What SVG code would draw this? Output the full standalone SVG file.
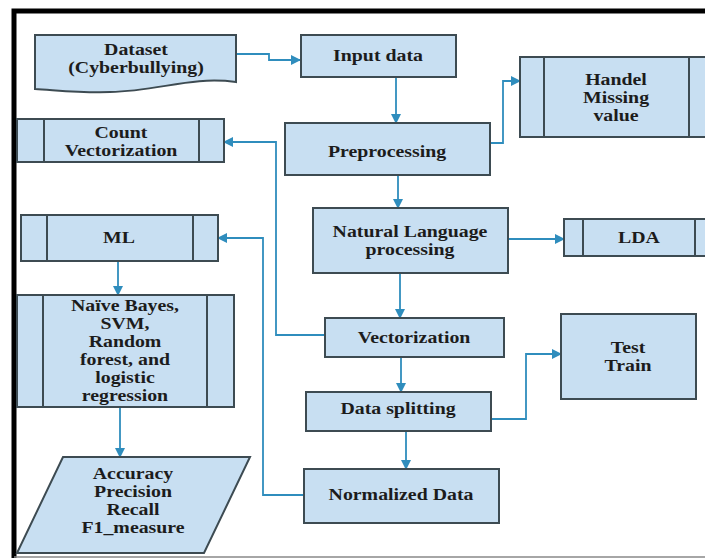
<svg xmlns="http://www.w3.org/2000/svg" width="705" height="558" viewBox="0 0 705 558">
<defs>
<style>
.box{fill:#c8dff2;stroke:#3d4b52;stroke-width:2}
.ln{fill:none;stroke:#3d4b52;stroke-width:2}
.t{font-family:"Liberation Serif","Times New Roman",serif;font-size:16px;font-weight:bold;fill:#1c1c1c;text-anchor:middle}
.c{fill:none;stroke:#2f8dbd;stroke-width:1.8}
</style>
<marker id="ah" viewBox="0 0 10 10" refX="9" refY="5" markerWidth="10" markerHeight="10" orient="auto" markerUnits="userSpaceOnUse">
<path d="M0,0 L10,5 L0,10 Z" fill="#2f8dbd"/>
</marker>
</defs>
<rect x="0" y="0" width="705" height="558" fill="#ffffff"/>
<path d="M14,558 V11 H705" fill="none" stroke="#000" stroke-width="5"/>
<line x1="14" y1="557" x2="705" y2="557" stroke="#888" stroke-width="1.5"/>

<g id="connectors">
<path class="c" d="M237,54 H269 V60 H300" marker-end="url(#ah)"/>
<path class="c" d="M396,77 V123" marker-end="url(#ah)"/>
<path class="c" d="M490,143 H503 V81 H520" marker-end="url(#ah)"/>
<path class="c" d="M398,175 V208" marker-end="url(#ah)"/>
<path class="c" d="M508,239 H564" marker-end="url(#ah)"/>
<path class="c" d="M400,273 V318" marker-end="url(#ah)"/>
<path class="c" d="M325,335 H276 V142 H224" marker-end="url(#ah)"/>
<path class="c" d="M401,357 V392" marker-end="url(#ah)"/>
<path class="c" d="M491,419 H526 V354 H561" marker-end="url(#ah)"/>
<path class="c" d="M406,431 V469" marker-end="url(#ah)"/>
<path class="c" d="M304,495 H263 V238 H218" marker-end="url(#ah)"/>
<path class="c" d="M118,261 V295" marker-end="url(#ah)"/>
<path class="c" d="M120,407 V457" marker-end="url(#ah)"/>
</g>

<g id="dataset">
<path class="box" d="M35,35 H236 V82 C190,76 160,91 110,92 C80,93 55,90 35,89 Z"/>
<text class="t" transform="translate(136,55) scale(1.24,1)">Dataset</text>
<text class="t" transform="translate(136,73) scale(1.24,1)">(Cyberbullying)</text>
</g>

<g id="input-data">
<rect class="box" x="301" y="35" width="155" height="42"/>
<text class="t" transform="translate(378,61) scale(1.24,1)">Input data</text>
</g>

<g id="preprocessing">
<rect class="box" x="285" y="123" width="205" height="52"/>
<text class="t" transform="translate(387,157) scale(1.24,1)">Preprocessing</text>
</g>

<g id="handel-missing-value">
<rect class="box" x="520" y="57" width="200" height="80"/>
<line class="ln" x1="544" y1="57" x2="544" y2="137"/>
<line class="ln" x1="689" y1="57" x2="689" y2="137"/>
<text class="t" transform="translate(616,85) scale(1.24,1)">Handel</text>
<text class="t" transform="translate(616,103) scale(1.24,1)">Missing</text>
<text class="t" transform="translate(616,121) scale(1.24,1)">value</text>
</g>

<g id="count-vectorization">
<rect class="box" x="17" y="119" width="207" height="43"/>
<line class="ln" x1="44" y1="119" x2="44" y2="162"/>
<line class="ln" x1="199" y1="119" x2="199" y2="162"/>
<text class="t" transform="translate(121,138) scale(1.24,1)">Count</text>
<text class="t" transform="translate(121,156) scale(1.24,1)">Vectorization</text>
</g>

<g id="nlp">
<rect class="box" x="313" y="208" width="195" height="65"/>
<text class="t" transform="translate(410,237) scale(1.24,1)">Natural Language</text>
<text class="t" transform="translate(410,255) scale(1.24,1)">processing</text>
</g>

<g id="lda">
<rect class="box" x="564" y="219" width="160" height="37"/>
<line class="ln" x1="583" y1="219" x2="583" y2="256"/>
<line class="ln" x1="695" y1="219" x2="695" y2="256"/>
<text class="t" transform="translate(639,243) scale(1.24,1)">LDA</text>
</g>

<g id="ml">
<rect class="box" x="21" y="215" width="197" height="46"/>
<line class="ln" x1="47" y1="215" x2="47" y2="261"/>
<line class="ln" x1="193" y1="215" x2="193" y2="261"/>
<text class="t" transform="translate(119,243) scale(1.24,1)">ML</text>
</g>

<g id="vectorization">
<rect class="box" x="325" y="318" width="179" height="39"/>
<text class="t" transform="translate(414,343) scale(1.24,1)">Vectorization</text>
</g>

<g id="test-train">
<rect class="box" x="561" y="314" width="135" height="85"/>
<text class="t" transform="translate(628,353) scale(1.24,1)">Test</text>
<text class="t" transform="translate(628,371) scale(1.24,1)">Train</text>
</g>

<g id="naive-bayes">
<rect class="box" x="17" y="295" width="217" height="112"/>
<line class="ln" x1="43" y1="295" x2="43" y2="407"/>
<line class="ln" x1="207" y1="295" x2="207" y2="407"/>
<text class="t" transform="translate(125,311) scale(1.24,1)">Naïve Bayes,</text>
<text class="t" transform="translate(125,329) scale(1.24,1)">SVM,</text>
<text class="t" transform="translate(125,347) scale(1.24,1)">Random</text>
<text class="t" transform="translate(125,365) scale(1.24,1)">forest, and</text>
<text class="t" transform="translate(125,383) scale(1.24,1)">logistic</text>
<text class="t" transform="translate(125,401) scale(1.24,1)">regression</text>
</g>

<g id="data-splitting">
<rect class="box" x="306" y="392" width="185" height="39"/>
<text class="t" transform="translate(398,414) scale(1.24,1)">Data splitting</text>
</g>

<g id="normalized-data">
<rect class="box" x="304" y="469" width="195" height="54"/>
<text class="t" transform="translate(401,500) scale(1.24,1)">Normalized Data</text>
</g>

<g id="metrics">
<path class="box" d="M63,457 H250 L204,553 H17 Z"/>
<text class="t" transform="translate(133,479) scale(1.24,1)">Accuracy</text>
<text class="t" transform="translate(133,497) scale(1.24,1)">Precision</text>
<text class="t" transform="translate(133,515) scale(1.24,1)">Recall</text>
<text class="t" transform="translate(133,533) scale(1.24,1)">F1_measure</text>
</g>
</svg>
